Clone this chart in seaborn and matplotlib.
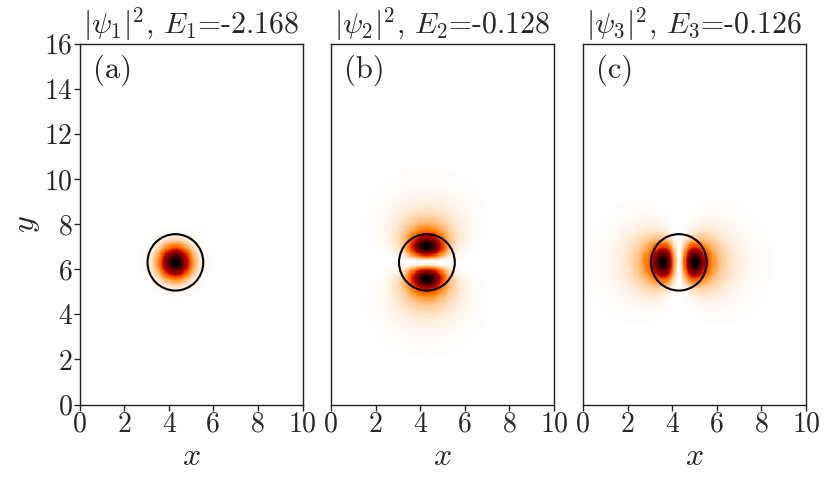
import numpy as np
import seaborn as sns
import matplotlib
matplotlib.use('Agg')
import matplotlib.pyplot as plt
from matplotlib.patches import Circle

# values
panel_tags = ['(a)', '(b)', '(c)']
energies = [-2.168, -0.128, -0.126]
ang_m = [0, 1, 1]                  # angular number of each state
ang_phase = [0.0, np.pi / 2, 0.0]  # (b) lobes along y, (c) lobes along x
core_width = [0.64, 0.72, 0.72]    # radius of the density maximum / half width
well_x, well_y, well_r = 4.3, 6.3, 1.25
box_w, box_h = 10, 16
xticks = [0, 2, 4, 6, 8, 10]
yticks = [0, 2, 4, 6, 8, 10, 12, 14, 16]

dx = 0.05
nx, ny = int(box_w / dx), int(box_h / dx)


def bessel_k(m, x):
    t = np.linspace(0, 8, 401)
    f = np.exp(-x[:, None] * np.cosh(t[None, :])) * np.cosh(m * t[None, :])
    return np.trapezoid(f, t, axis=1)


def inner(m, a, r):
    return r ** m * np.exp(-r ** 2 / (2 * a ** 2))


def density(E, m, phase, a):
    xc = (np.arange(nx) + 0.5) * dx
    yc = (np.arange(ny) + 0.5) * dx
    X, Y = np.meshgrid(xc, yc)
    r = np.hypot(X - well_x, Y - well_y).ravel()
    th = np.arctan2(Y - well_y, X - well_x).ravel()
    kap = np.sqrt(-2 * E)
    rad = np.zeros_like(r)
    inside = r <= well_r
    rad[inside] = inner(m, a, r[inside])
    amp = inner(m, a, well_r) / bessel_k(m, np.array([kap * well_r]))[0]
    rad[~inside] = amp * bessel_k(m, kap * r[~inside])
    psi = rad * np.cos(m * th - phase)
    d = (psi ** 2).reshape(ny, nx)
    return d / d.max()


sns.set_style('ticks')
plt.rcParams['font.family'] = 'serif'
plt.rcParams['font.serif'] = ['cmr10', 'DejaVu Serif']
plt.rcParams['mathtext.fontset'] = 'cm'
plt.rcParams['axes.unicode_minus'] = False
plt.rcParams['axes.formatter.use_mathtext'] = True

fig = plt.figure(figsize=(8.3, 4.84), dpi=100)
W, H = 830, 484
lefts = [79.5, 331, 583]
for i in range(3):
    ax = fig.add_axes([lefts[i] / W, (H - 404.5) / H, 223 / W, 361 / H])
    dens = density(energies[i], ang_m[i], ang_phase[i], core_width[i])
    sns.heatmap(dens, ax=ax, cmap='gist_heat_r', vmin=0, vmax=1, cbar=False,
                xticklabels=False, yticklabels=False)
    ax.set_xlim(0, nx)
    ax.set_ylim(0, ny)
    for s in ax.spines.values():
        s.set_visible(True)
        s.set_linewidth(1.0)
        s.set_color('#222222')
    ax.add_patch(Circle((well_x / dx, well_y / dx), well_r / dx, fill=False,
                        ec='k', lw=1.5))
    ax.set_xticks([t / dx for t in xticks])
    ax.set_xticklabels([str(t) for t in xticks])
    if i == 0:
        ax.set_yticks([t / dx for t in yticks])
        ax.set_yticklabels([str(t) for t in yticks])
        ax.set_ylabel(r'$y$', fontsize=23, labelpad=2)
    else:
        ax.set_yticks([])
    ax.tick_params(direction='out', length=4, width=1, labelsize=20, pad=1)
    ax.set_xlabel(r'$x$', fontsize=23, labelpad=4)
    ax.set_title(r'$|\psi_%d|^2$, $E_%d$=%s' % (i + 1, i + 1, '%.3f' % energies[i]),
                 fontsize=21.5, pad=3)
    ax.text(0.06, 0.97, panel_tags[i], transform=ax.transAxes, fontsize=22,
            va='top', ha='left')

fig.savefig('out.png', dpi=100)
